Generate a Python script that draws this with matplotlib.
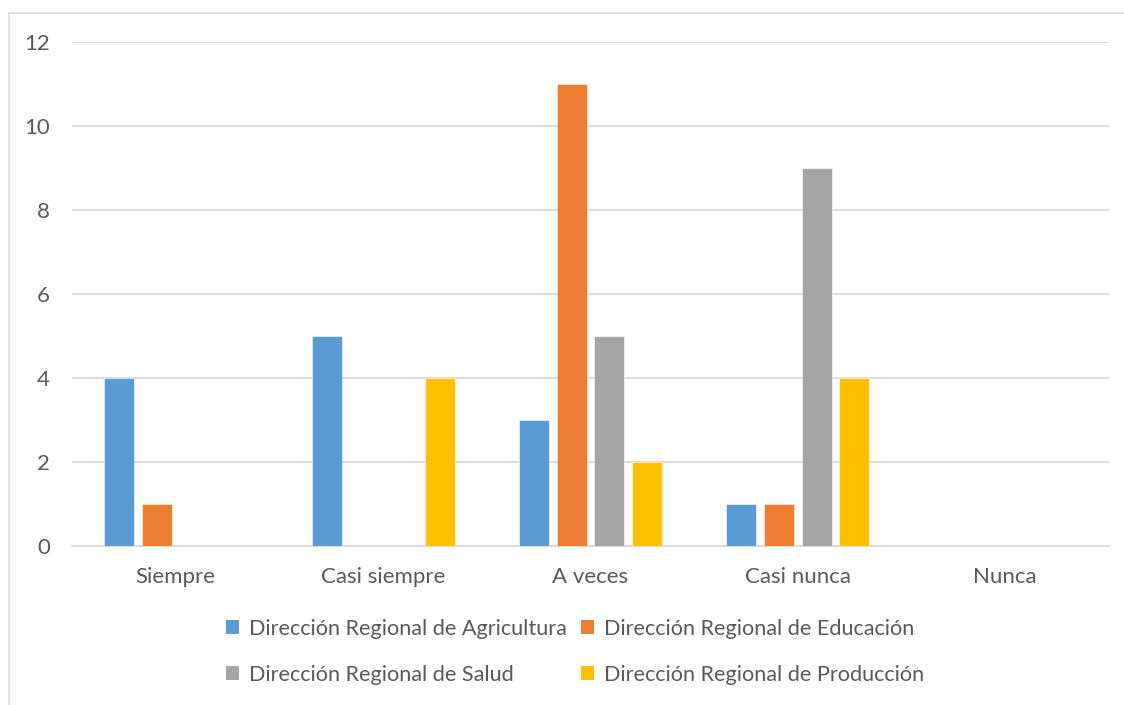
import matplotlib
matplotlib.use("Agg")
import matplotlib.pyplot as plt
from matplotlib.patches import Rectangle, Patch
import numpy as np

categories = ["Siempre", "Casi siempre", "A veces", "Casi nunca", "Nunca"]
series_names = [
    "Dirección Regional de Agricultura",
    "Dirección Regional de Educación",
    "Dirección Regional de Salud",
    "Dirección Regional de Producción",
]
agricultura = [4, 5, 3, 1, 0]
educacion = [1, 0, 11, 1, 0]
salud = [0, 0, 5, 9, 0]
produccion = [0, 4, 2, 4, 0]
yticks = [0, 2, 4, 6, 8, 10, 12]

colors = ["#5B9BD5", "#ED7D31", "#A5A5A5", "#FFC000"]
text_color = "#595959"
grid_color = "#D9D9D9"

plt.rcParams["font.family"] = ["Lato", "DejaVu Sans"]

fig = plt.figure(figsize=(11.24, 7.05), dpi=100)
ax = fig.add_axes([72 / 1124, 1 - 546 / 705, (1109 - 72) / 1124, (546 - 42) / 705])

x = np.arange(len(categories))
slot = 0.1818
width = 0.1446
handles = []
for i, (vals, name, c) in enumerate(zip([agricultura, educacion, salud, produccion], series_names, colors)):
    ax.bar(x + (i - 1.5) * slot, vals, width, color=c, edgecolor="white", linewidth=0.4, zorder=3)
    handles.append(Patch(facecolor=c, edgecolor="none", label=name))

ax.set_xlim(-0.5, len(categories) - 0.5)
ax.set_ylim(0, 12)
ax.set_yticks(yticks)
ax.set_xticks(x)
ax.set_xticklabels(categories)
ax.yaxis.grid(True, color=grid_color, linewidth=1.3, zorder=0)
ax.set_axisbelow(True)
for s in ["top", "right", "left"]:
    ax.spines[s].set_visible(False)
ax.spines["bottom"].set_color(grid_color)
ax.spines["bottom"].set_linewidth(1.3)
ax.tick_params(axis="both", length=0, colors=text_color, labelsize=16)
ax.tick_params(axis="y", pad=16)
ax.tick_params(axis="x", pad=15)

# chart frame
fig.patches.append(Rectangle((8.5 / 1124, -0.1), 1.2, 1 - 13 / 705 + 0.1,
                             transform=fig.transFigure, fill=False,
                             edgecolor=grid_color, linewidth=1.2))

order = [0, 2, 1, 3]
leg = fig.legend([handles[k] for k in order], [series_names[k] for k in order],
                 ncol=2, loc="center", bbox_to_anchor=(575 / 1124, 1 - 652 / 705),
                 frameon=False, fontsize=15.6, labelcolor=text_color,
                 handlelength=0.6, handleheight=0.6, handletextpad=0.45,
                 columnspacing=0.65, labelspacing=1.2)

fig.savefig("out.png", dpi=100)
